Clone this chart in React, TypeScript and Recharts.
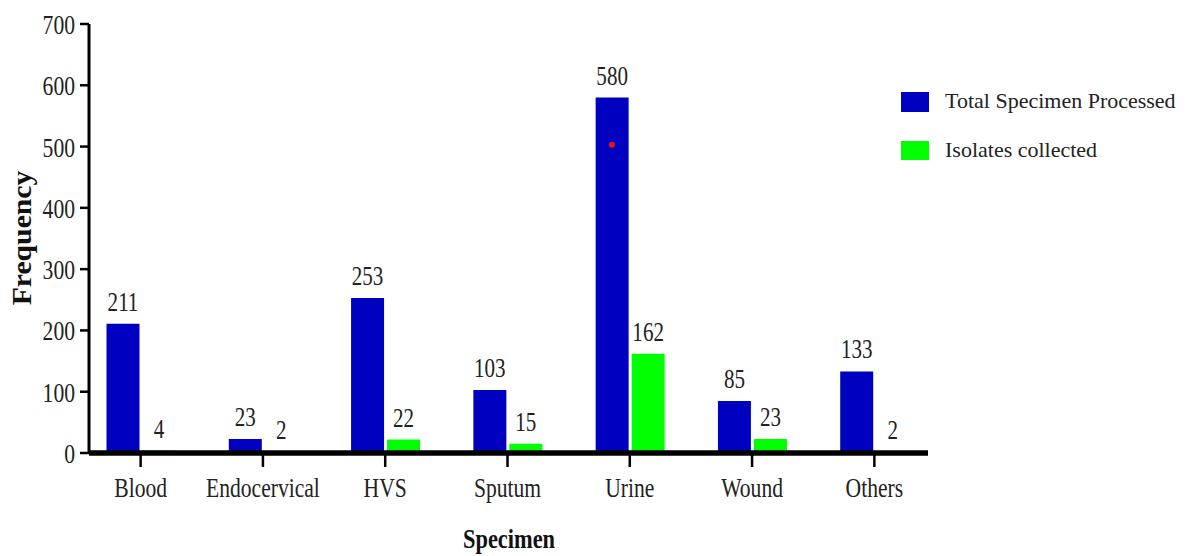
import React from "react";
import { BarChart, Bar, XAxis, YAxis, LabelList, ReferenceDot, ReferenceLine } from "recharts";

const categories = ["Blood", "Endocervical", "HVS", "Sputum", "Urine", "Wound", "Others"];
const totalProcessed = [211, 23, 253, 103, 580, 85, 133];
const isolatesCollected = [4, 2, 22, 15, 162, 23, 2];
const yTicks = [0, 100, 200, 300, 400, 500, 600, 700];
const seriesNames = ["Total Specimen Processed", "Isolates collected"];
const seriesColors = ["#0000C0", "#00FF00"];
const markerPoint = { category: "Urine", value: 503 };

const data = categories.map((c, i) => ({
  name: c,
  total: totalProcessed[i],
  isolates: isolatesCollected[i],
}));

const FONT = '"Liberation Serif", "Times New Roman", serif';
const BAR_SIZE = 33;
const BAR_GAP = 3;

const YTick = (props: any) => {
  const { x, y, payload } = props;
  return (
    <text
      transform={`translate(${x},${y + 10}) scale(0.8,1)`}
      textAnchor="end"
      fontFamily={FONT}
      fontSize={27}
      fill="#222"
    >
      {payload.value}
    </text>
  );
};

const XTick = (props: any) => {
  const { x, y, payload } = props;
  return (
    <text
      transform={`translate(${x},${y + 28}) scale(0.8,1)`}
      textAnchor="middle"
      fontFamily={FONT}
      fontSize={27}
      fill="#222"
    >
      {payload.value}
    </text>
  );
};

const ValueLabel = (props: any) => {
  const { x, y, width, value } = props;
  return (
    <text
      transform={`translate(${x + width / 2},${y - 13}) scale(0.78,1)`}
      textAnchor="middle"
      fontFamily={FONT}
      fontSize={27}
      fill="#222"
    >
      {value}
    </text>
  );
};

const RedDot = (props: any) => {
  const { cx, cy } = props;
  return <circle cx={cx - (BAR_SIZE + BAR_GAP) / 2} cy={cy} r={3} fill="#EE1111" />;
};

export default function App() {
  return (
    <div style={{ position: "relative", width: 1181, height: 548 }}>
      <BarChart
        width={1181}
        height={548}
        data={data}
        margin={{ top: 16, right: 261, bottom: 43, left: 21 }}
        barSize={BAR_SIZE}
        barGap={BAR_GAP}
      >
        <XAxis
          dataKey="name"
          height={60}
          padding={{ left: -9.5, right: -7.5 }}
          axisLine={{ stroke: "#000", strokeWidth: 4 }}
          tickLine={{ stroke: "#000", strokeWidth: 2.5 }}
          tickSize={14}
          tickMargin={2}
          tick={<XTick />}
          interval={0}
        />
        <YAxis
          width={60}
          domain={[0, 700]}
          ticks={yTicks}
          axisLine={{ stroke: "#000", strokeWidth: 3 }}
          tickLine={{ stroke: "#000", strokeWidth: 2.5 }}
          tickSize={9}
          tickMargin={5}
          tick={<YTick />}
          interval={0}
        />
        <Bar dataKey="total" name={seriesNames[0]} fill={seriesColors[0]} isAnimationActive={false}>
          <LabelList dataKey="total" content={<ValueLabel />} />
        </Bar>
        <Bar dataKey="isolates" name={seriesNames[1]} fill={seriesColors[1]} isAnimationActive={false}>
          <LabelList dataKey="isolates" content={<ValueLabel />} />
        </Bar>
        <ReferenceLine y={0} stroke="#000" strokeWidth={5.5} ifOverflow="visible" zIndex={1000} />
        <ReferenceDot
          x={markerPoint.category}
          y={markerPoint.value}
          r={3}
          shape={<RedDot />}
          ifOverflow="visible"
        />
      </BarChart>
      <svg
        width={1181}
        height={548}
        style={{ position: "absolute", left: 0, top: 0, pointerEvents: "none" }}
      >
        <text
          transform="translate(14,230) rotate(-90) scale(1.1,1)"
          textAnchor="middle"
          dy="0.35em"
          fontFamily={FONT}
          fontWeight="bold"
          fontSize={27}
          fill="#111"
        >
          Frequency
        </text>
        <text
          transform="translate(501,540) scale(0.83,1)"
          textAnchor="middle"
          fontFamily={FONT}
          fontWeight="bold"
          fontSize={27}
          fill="#111"
        >
          Specimen
        </text>
        <rect x={893} y={84} width={28} height={20} fill={seriesColors[0]} />
        <text x={937} y={100} fontFamily={FONT} fontSize={22} fill="#222">
          {seriesNames[0]}
        </text>
        <rect x={893} y={133} width={28} height={19} fill={seriesColors[1]} />
        <text x={937} y={149} fontFamily={FONT} fontSize={22} fill="#222">
          {seriesNames[1]}
        </text>
      </svg>
    </div>
  );
}
